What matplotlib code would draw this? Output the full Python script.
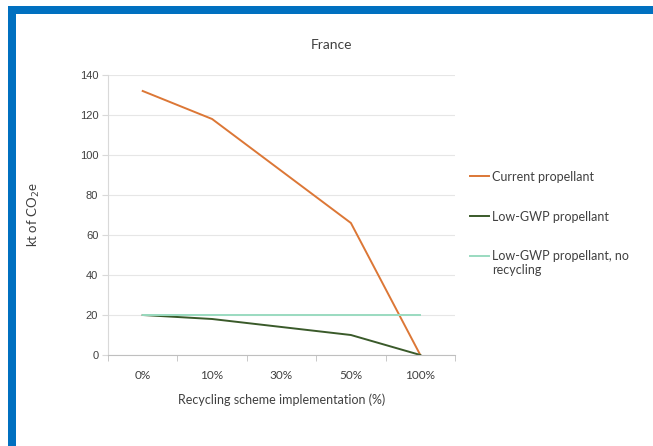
import matplotlib
matplotlib.use("Agg")
import matplotlib.pyplot as plt
from matplotlib.patches import Rectangle

# data
categories = ['0%', '10%', '30%', '50%', '100%']
current_prop = [132, 118, 92, 66, 0]
low_gwp = [20, 18, 14, 10, 0]
low_gwp_no_recycling = [20, 20, 20, 20, 20]
y_ticks = [0, 20, 40, 60, 80, 100, 120, 140]

W, H = 653, 446
fig = plt.figure(figsize=(W / 100, H / 100), dpi=100)
fig.patch.set_facecolor('white')

# blue frame on top and left
blue = '#0070C0'
fig.add_artist(Rectangle((8 / W, 0), 8 / W, 1 - 6 / H, transform=fig.transFigure,
                         facecolor=blue, edgecolor='none'))
fig.add_artist(Rectangle((8 / W, 1 - 14 / H), 1 - 8 / W, 8 / H, transform=fig.transFigure,
                         facecolor=blue, edgecolor='none'))

# plot area in pixels: x 108..455, y 75..355
ax = fig.add_axes([108 / W, (H - 355) / H, 347 / W, 280 / H])
x = list(range(len(categories)))
ax.plot(x, current_prop, color='#DC7736', lw=1.4, label='Current propellant')
ax.plot(x, low_gwp, color='#3A5A2A', lw=1.4, label='Low-GWP propellant')
ax.plot(x, low_gwp_no_recycling, color='#9ADBC0', lw=1.4, label='Low-GWP propellant, no\nrecycling')

ax.set_xlim(-0.5, len(categories) - 0.5)
ax.set_ylim(0, 140)
ax.set_yticks(y_ticks)
ax.set_yticklabels([str(v) for v in y_ticks], fontsize=8, family='Liberation Sans', color='#404040')
ax.yaxis.grid(True, color='#E6E6E6', lw=0.8)
ax.set_axisbelow(True)

ax.set_xticks(x)
ax.set_xticklabels(categories, fontsize=8.5, family='Lato', color='#404040')
ax.tick_params(axis='x', length=0, pad=11)
# tick marks between categories
ax.set_xticks([i - 0.5 for i in range(len(categories) + 1)], minor=True)
ax.tick_params(axis='x', which='minor', length=4, color='#BFBFBF', direction='out')
ax.tick_params(axis='y', length=4, color='#D9D9D9', pad=3)

for s in ['top', 'right']:
    ax.spines[s].set_visible(False)
ax.spines['left'].set_color('#D9D9D9')
ax.spines['bottom'].set_color('#BFBFBF')

ax.set_xlabel('Recycling scheme implementation (%)', fontsize=9, family='Lato',
              color='#404040', labelpad=9)
ax.set_ylabel('kt of CO$_2$e', fontsize=9.5, family='Lato', color='#404040', labelpad=27)

fig.text(332 / W, 1 - 45 / H, 'France', ha='center', va='center', fontsize=10,
         family='Lato', color='#404040')

leg = ax.legend(loc='upper left', bbox_to_anchor=(470 / W, 1 - 171 / H),
                bbox_transform=fig.transFigure, frameon=False, fontsize=9,
                handlelength=1.55, handleheight=1.2, handletextpad=0.2,
                labelspacing=2.15, borderpad=0, borderaxespad=0)
# keep each handle level with the first line of its label
for col in leg._legend_handle_box.get_children():
    for item in col.get_children():
        item.align = 'top'
for t in leg.get_texts():
    t.set_family('Lato')
    t.set_color('#404040')

fig.savefig('out.png', dpi=100)
